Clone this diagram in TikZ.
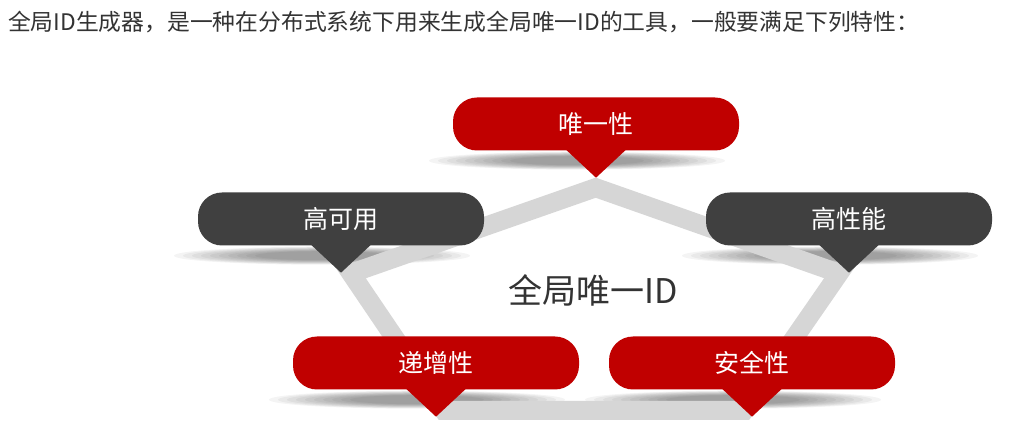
\documentclass[tikz,border=0pt]{standalone}
\usepackage{fontspec}
\setmainfont{Noto Sans CJK SC}
\usetikzlibrary{backgrounds,calc}
\definecolor{idred}{HTML}{C00000}
\definecolor{iddark}{HTML}{404040}
\definecolor{idband}{HTML}{D6D6D6}
\definecolor{idtext}{HTML}{333333}
\begin{document}
\begin{tikzpicture}[x=1pt,y=-1pt,line join=round,
  bubble/.style={rounded corners=24pt,minimum width=286pt,minimum height=53pt,inner sep=0pt,text=white,font=\fontsize{25}{30}\selectfont},
  redbubble/.style={bubble,fill=idred},
  darkbubble/.style={bubble,fill=iddark}]
\useasboundingbox (0,0) rectangle (1034,435);
\node[anchor=west,text=idtext,font=\fontsize{22.8}{26}\selectfont,inner sep=0pt] (title) at (8,22) {全局ID生成器，是一种在分布式系统下用来生成全局唯一ID的工具，一般要满足下列特性：};
% bubbles
\node[redbubble] (uniq) at (596,124) {唯一性};
\node[darkbubble] (avail) at (341,219) {高可用};
\node[darkbubble] (perf) at (849,219) {高性能};
\node[redbubble] (incr) at (436,363) {递增性};
\node[redbubble] (safe) at (752,363) {安全性};
\node[text=idtext,font=\fontsize{34}{40}\selectfont] (centre) at (593,290) {全局唯一ID};
% pointers
\foreach \b/\c in {uniq/idred,avail/iddark,perf/iddark,incr/idred,safe/idred} {
  \coordinate (\b tip) at ([yshift=-27pt]\b.south);
  \fill[\c] ([xshift=-30pt,yshift=1pt]\b.south) -- (\b tip) -- ([xshift=30pt,yshift=1pt]\b.south) -- cycle;
}
\begin{scope}[on background layer]
\fill[white] (0,0) rectangle (1034,435);
% soft shadows
\foreach \b in {uniq,avail,perf,incr,safe} {
  \foreach \k in {0,...,9} {
    \fill[black,opacity=0.045] ([xshift=-19pt,yshift=-10pt]\b.south) ellipse ({148-\k*9} and {9-\k*0.5});
  }
}
% band
\foreach \b in {uniq,avail,perf,incr,safe}
  \coordinate (\b band) at ($(\b tip)!10pt!(centre)$);
\draw[idband,line width=19pt,line join=miter] (uniqband) -- (perfband) -- (safeband) -- (incrband) -- (availband) -- cycle;
\end{scope}
\end{tikzpicture}
\end{document}
